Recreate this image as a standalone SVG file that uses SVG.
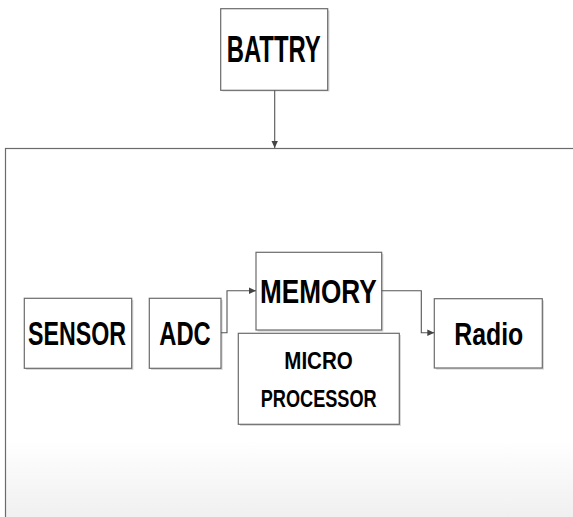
<svg xmlns="http://www.w3.org/2000/svg" width="573" height="517" viewBox="0 0 573 517">
  <style>
    .box { fill: #ffffff; stroke: #6b6b6b; stroke-width: 1.2; }
    .shadow { fill: #d9d9d9; }
    .lbl { font-family: "Liberation Sans Narrow", "Liberation Sans", Arial, sans-serif; font-weight: bold; fill: #000000; }
    .conn { fill: none; stroke: #555555; stroke-width: 1.1; }
  </style>
  <defs>
    <linearGradient id="bg" gradientUnits="userSpaceOnUse" x1="0" y1="440" x2="0" y2="517">
      <stop offset="0" stop-color="#ffffff"/>
      <stop offset="1" stop-color="#f0f0f0"/>
    </linearGradient>
    <marker id="arr" markerWidth="8" markerHeight="8" refX="7" refY="4" orient="auto" markerUnits="userSpaceOnUse">
      <path d="M0,0.8 L7,4 L0,7.2 Z" fill="#444444"/>
    </marker>
  </defs>

  <g id="container">
    <rect x="5.5" y="148.5" width="580" height="380" fill="url(#bg)" stroke="#6b6b6b" stroke-width="1.2"/>
  </g>

  <g id="battry">
    <rect class="shadow" x="222.5" y="10.5" width="107" height="81"/>
    <rect class="box" x="220.7" y="8.7" width="107" height="81.6"/>
    <text class="lbl" x="226.7" y="61.7" font-size="37" textLength="94" lengthAdjust="spacingAndGlyphs">BATTRY</text>
  </g>

  <g id="sensor">
    <rect class="shadow" x="26" y="300" width="107.4" height="70"/>
    <rect class="box" x="24.3" y="298.3" width="107.4" height="70"/>
    <text class="lbl" transform="translate(28,345) scale(1,1.1)" x="0" y="0" font-size="30" textLength="98" lengthAdjust="spacingAndGlyphs">SENSOR</text>
  </g>

  <g id="adc">
    <rect class="shadow" x="151" y="300" width="71.7" height="70"/>
    <rect class="box" x="149.3" y="298.3" width="71.7" height="70"/>
    <text class="lbl" x="159.3" y="345" font-size="33" textLength="51.4" lengthAdjust="spacingAndGlyphs">ADC</text>
  </g>

  <g id="memory">
    <rect class="shadow" x="257.7" y="254" width="125.7" height="77.7"/>
    <rect class="box" x="256" y="252.3" width="125.7" height="77.7"/>
    <text class="lbl" x="260" y="303.3" font-size="33" textLength="116.7" lengthAdjust="spacingAndGlyphs">MEMORY</text>
  </g>

  <g id="microprocessor">
    <rect class="shadow" x="240" y="335" width="161" height="91"/>
    <rect class="box" x="238.3" y="333.3" width="161" height="91"/>
    <text class="lbl" x="284.3" y="369.3" font-size="24" textLength="68.4" lengthAdjust="spacingAndGlyphs">MICRO</text>
    <text class="lbl" x="260.7" y="406.5" font-size="24" textLength="116" lengthAdjust="spacingAndGlyphs">PROCESSOR</text>
  </g>

  <g id="radio">
    <rect class="shadow" x="436" y="300.4" width="108" height="69.3"/>
    <rect class="box" x="434.3" y="298.7" width="108" height="69.3"/>
    <text class="lbl" x="454.3" y="345" font-size="32" textLength="69" lengthAdjust="spacingAndGlyphs">Radio</text>
  </g>

  <g id="connectors">
    <path class="conn" d="M274.7,90.3 L274.7,148" marker-end="url(#arr)"/>
    <path class="conn" d="M221,332.7 L227,332.7 L227,290.7 L256,290.7" marker-end="url(#arr)"/>
    <path class="conn" d="M381.7,290.7 L421.3,290.7 L421.3,332.7 L434.3,332.7" marker-end="url(#arr)"/>
  </g>
</svg>
